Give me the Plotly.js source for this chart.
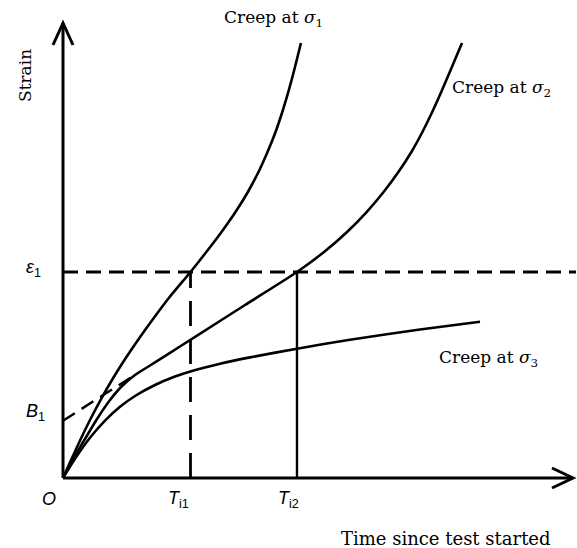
<!DOCTYPE html>
<html>
<head>
<meta charset="utf-8">
<script src="https://cdn.plot.ly/plotly-3.0.1.min.js"></script>
<style>html,body{margin:0;padding:0;background:#fff}#chart{width:577px;height:548px}</style>
</head>
<body>
<div id="chart"></div>
<script>
// Creep curves (arbitrary units: time 0-100, strain 0-100)
const sigma1Time   = [0, 1.76, 3.57, 5.49, 7.57, 9.84, 12.31, 14.98, 17.80, 20.75, 24.02, 25.0, 28.10, 31.08, 33.82, 36.25, 38.33, 40.10, 41.67, 43.00, 44.18, 45.24, 46.22, 46.65];
const sigma1Strain = [0, 4.40, 8.79, 13.19, 17.58, 21.98, 26.37, 30.77, 35.16, 39.56, 43.96, 45.27, 49.67, 54.07, 58.46, 62.86, 67.25, 71.65, 76.04, 80.44, 84.84, 89.23, 93.63, 95.60];

const sigma2Time   = [0, 1.96, 4.31, 6.67, 9.22, 11.57, 14.12, 17.06, 20.98, 25.29, 35.69, 45.88, 51.18, 55.69, 59.53, 62.86, 65.76, 68.31, 70.47, 72.39, 74.16, 75.84, 77.49, 78.24];
const sigma2Strain = [0, 4.18, 8.57, 12.97, 17.14, 20.22, 22.64, 24.73, 27.52, 30.59, 38.02, 45.27, 49.67, 54.07, 58.46, 62.86, 67.25, 71.65, 76.04, 80.44, 84.84, 89.23, 93.63, 95.60];

const sigma3Time   = [0, 2.35, 5.29, 8.24, 11.18, 14.12, 18.04, 21.96, 25.29, 30.78, 36.67, 45.88, 56.27, 70.0, 81.76];
const sigma3Strain = [0, 4.22, 8.84, 12.62, 15.65, 18.02, 20.44, 22.29, 23.52, 25.12, 26.51, 28.42, 30.40, 32.62, 34.33];

// Reference values
const eps1 = 45.27;       // strain level ε1
const Ti1 = 25.0;         // time to reach ε1 at σ1
const Ti2 = 45.88;        // time to reach ε1 at σ2
const B1 = 12.6;          // intercept of secondary-creep tangent (σ2)
const secondaryRate = 0.7125;
const tangentEnd = 14.5;
const timeMax = 100;      // axis arrow tips
const strainMax = 100;

// Labels
const curveLabels = ['Creep at <i>σ</i><sub>1</sub>', 'Creep at <i>σ</i><sub>2</sub>', 'Creep at <i>σ</i><sub>3</sub>'];
const xAxisLabel = 'Time since test started';
const yAxisLabel = 'Strain';
const tickLabels = ['<i>O</i>', '<i>T</i><sub>i1</sub>', '<i>T</i><sub>i2</sub>'];
const levelLabels = ['<i>ε</i><sub>1</sub>', '<i>B</i><sub>1</sub>'];

// pixel scale (5.1 px per time unit, 4.55 px per strain unit), origin at (63,478)
const pxX = 5.1, pxY = 4.55;
const xRange = [-63 / pxX, 514 / pxX];
const yRange = [-70 / pxY, 478 / pxY];

const black = '#000';
const curve = (x, y) => ({x, y, type: 'scatter', mode: 'lines', hoverinfo: 'skip',
  line: {color: black, width: 2.6, shape: 'spline', smoothing: 0.6}});

const traces = [
  curve(sigma1Time, sigma1Strain),
  curve(sigma2Time, sigma2Strain),
  curve(sigma3Time, sigma3Strain),
  {x: [0, timeMax + 0.6], y: [eps1, eps1], type: 'scatter', mode: 'lines', hoverinfo: 'skip',
   line: {color: black, width: 2.8, dash: '15px,8px'}},
  {x: [Ti1, Ti1], y: [0, eps1], type: 'scatter', mode: 'lines', hoverinfo: 'skip',
   line: {color: black, width: 2.8, dash: '25px,13px'}},
  {x: [Ti2, Ti2], y: [0, eps1], type: 'scatter', mode: 'lines', hoverinfo: 'skip',
   line: {color: black, width: 2.4}},
  {x: [0, tangentEnd], y: [B1, B1 + secondaryRate * tangentEnd], type: 'scatter', mode: 'lines', hoverinfo: 'skip',
   line: {color: black, width: 2.4, dash: '14px,8px'}}
];

const ax = 10 / pxX, ay = 22 / pxY;   // y arrow chevron
const bx = 21 / pxX, by = 10 / pxY;   // x arrow chevron
const shapes = [
  {type: 'line', xref: 'x', yref: 'y', x0: 0, y0: 0, x1: 0, y1: strainMax, line: {color: black, width: 3}},
  {type: 'line', xref: 'x', yref: 'y', x0: 0, y0: 0, x1: timeMax, y1: 0, line: {color: black, width: 3}},
  {type: 'path', xref: 'x', yref: 'y', line: {color: black, width: 3},
   path: `M${-ax},${strainMax - ay} L0,${strainMax} L${ax},${strainMax - ay}`},
  {type: 'path', xref: 'x', yref: 'y', line: {color: black, width: 3},
   path: `M${timeMax - bx},${by} L${timeMax},0 L${timeMax - bx},${-by}`}
];

const serif = {family: 'DejaVu Serif', size: 17, color: black};
const serifL = {family: 'DejaVu Serif', size: 18, color: black};
const sans = {family: 'Liberation Sans', size: 18, color: black};
const ann = (text, x, y, font, extra) => Object.assign({text, x, y, xref: 'x', yref: 'y',
  showarrow: false, xanchor: 'center', yanchor: 'middle', font}, extra || {});

const annotations = [
  ann(curveLabels[0], 210 / pxX, 460 / pxY, serif),
  ann(curveLabels[1], 438 / pxX, 390 / pxY, serif),
  ann(curveLabels[2], 425 / pxX, 120 / pxY, serif),
  ann(yAxisLabel, -38 / pxX, 402 / pxY, serif, {textangle: -90}),
  ann(xAxisLabel, 383 / pxX, -60 / pxY, serifL),
  ann(levelLabels[0], -30 / pxX, 210 / pxY, sans),
  ann(levelLabels[1], -28 / pxX, 66 / pxY, sans),
  ann(tickLabels[0], -14 / pxX, -21 / pxY, sans),
  ann(tickLabels[1], Ti1 - 12 / pxX, -21 / pxY, sans),
  ann(tickLabels[2], Ti2 - 8 / pxX, -21 / pxY, sans)
];

const hidden = {showgrid: false, zeroline: false, showticklabels: false, showline: false, ticks: '', fixedrange: true};
const layout = {
  width: 577, height: 548,
  margin: {l: 0, r: 0, t: 0, b: 0},
  paper_bgcolor: '#fff', plot_bgcolor: '#fff',
  showlegend: false,
  xaxis: Object.assign({range: xRange}, hidden),
  yaxis: Object.assign({range: yRange}, hidden),
  shapes, annotations
};

Plotly.newPlot('chart', traces, layout, {staticPlot: true, displayModeBar: false});
</script>
</body>
</html>
